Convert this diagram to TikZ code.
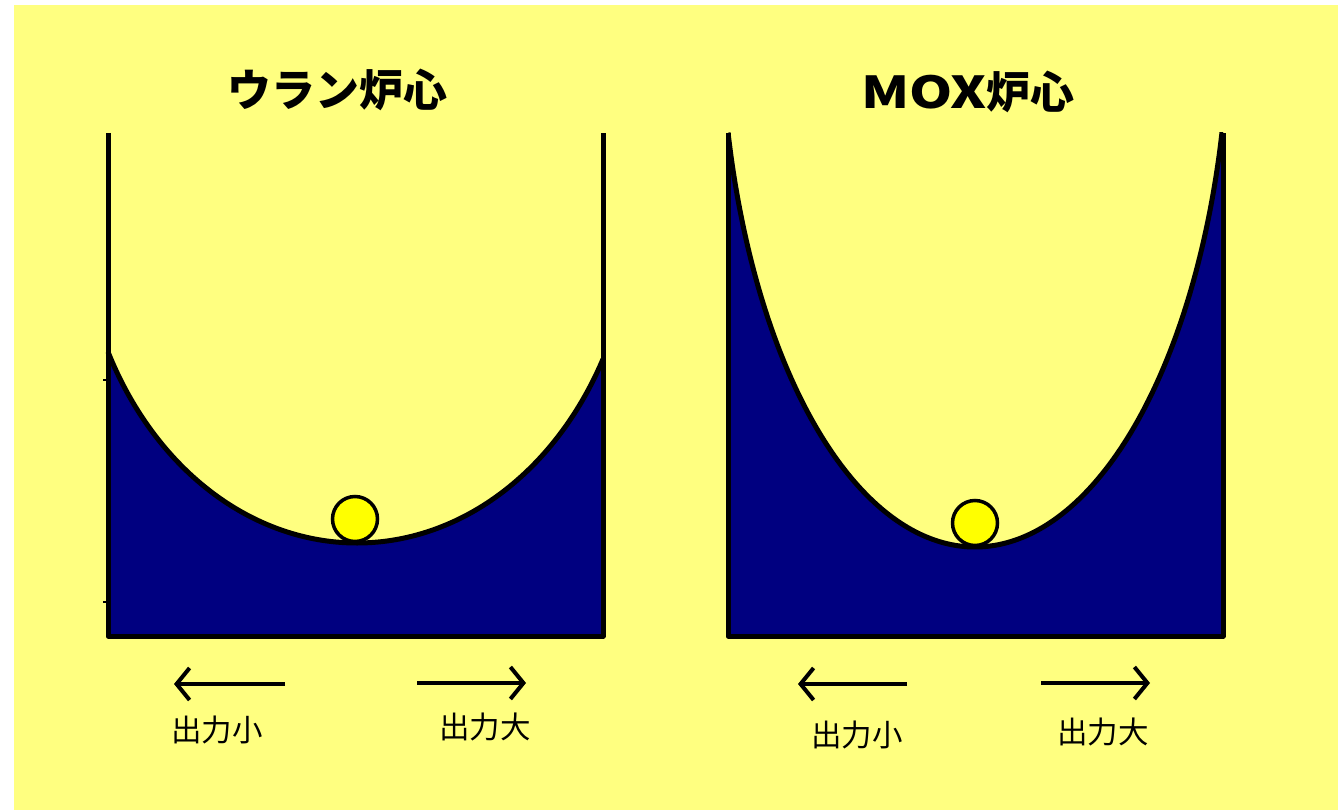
\documentclass[tikz,border=0pt]{standalone}
\usepackage{fontspec}
\newfontfamily\jp{Noto Sans CJK JP}
\usetikzlibrary{arrows.meta}
\definecolor{bgy}{RGB}{255,255,128}
\definecolor{navyc}{RGB}{0,0,128}
\definecolor{ballc}{RGB}{255,255,0}
\tikzset{
  outline/.style={line width=5pt, line join=round},
  ball/.style={circle, fill=ballc, draw=black, line width=3.5pt, minimum size=45pt, inner sep=0pt},
  arr/.style={line width=4pt, -{Straight Barb[length=13pt,width=32pt,line width=4pt]}},
  title/.style={font=\jp\bfseries\fontsize{44pt}{44pt}\selectfont, inner sep=0pt},
  lab/.style={font=\jp\fontsize{30.5pt}{30.5pt}\selectfont, inner sep=0pt},
}
\begin{document}
\begin{tikzpicture}[x=1pt,y=-1pt]
\useasboundingbox (0,0) rectangle (1338,810);
\fill[white] (0,0) rectangle (1338,810);
\fill[bgy] (14,5) rectangle (1338,810);
% left panel
\fill[navyc] plot[domain=108:603,samples=150,smooth] (\x,{200+343*sqrt(1-((\x-357)/277.7)^2)}) -- (603,636) -- (108,636) -- cycle;
\draw[outline] plot[domain=108:603,samples=150,smooth] (\x,{200+343*sqrt(1-((\x-357)/277.7)^2)});
\draw[outline] (108,133) -- (108,636) -- (603,636) -- (603,133);
\draw[line width=1.5pt] (103,380) -- (108,380) (103,602) -- (108,602);
\node[ball] (b1) at (355,519) {};
% right panel
\begin{scope}
\clip (728,133) rectangle (1223,640);
\fill[navyc] plot[domain=728:1223,samples=150,smooth] (\x,{547*sqrt(1-((\x-975)/254.6)^2)}) -- (1223,636) -- (728,636) -- cycle;
\draw[outline] plot[domain=728:1223,samples=150,smooth] (\x,{547*sqrt(1-((\x-975)/254.6)^2)});
\end{scope}
\draw[outline] (728,133) -- (728,636) -- (1223,636) -- (1223,133);
\node[ball] (b2) at (975,523) {};
% titles
\node[title] (t1) at (337,90) {ウラン炉心};
\node[title] (t2) at (968,92) {\scalebox{1.25}[1]{MOX}炉心};
% arrows
\coordinate (a1s) at (285,684); \coordinate (a1e) at (174,684);
\coordinate (a2s) at (417,683); \coordinate (a2e) at (526,683);
\coordinate (a3s) at (907,684); \coordinate (a3e) at (798,684);
\coordinate (a4s) at (1041,683); \coordinate (a4e) at (1150,683);
\draw[arr] (a1s) -- (a1e);
\draw[arr] (a2s) -- (a2e);
\draw[arr] (a3s) -- (a3e);
\draw[arr] (a4s) -- (a4e);
\node[lab] (l1) at (217,730) {出力小};
\node[lab] (l2) at (485,727) {出力大};
\node[lab] (l3) at (857,735) {出力小};
\node[lab] (l4) at (1103,732) {出力大};
\end{tikzpicture}
\end{document}
